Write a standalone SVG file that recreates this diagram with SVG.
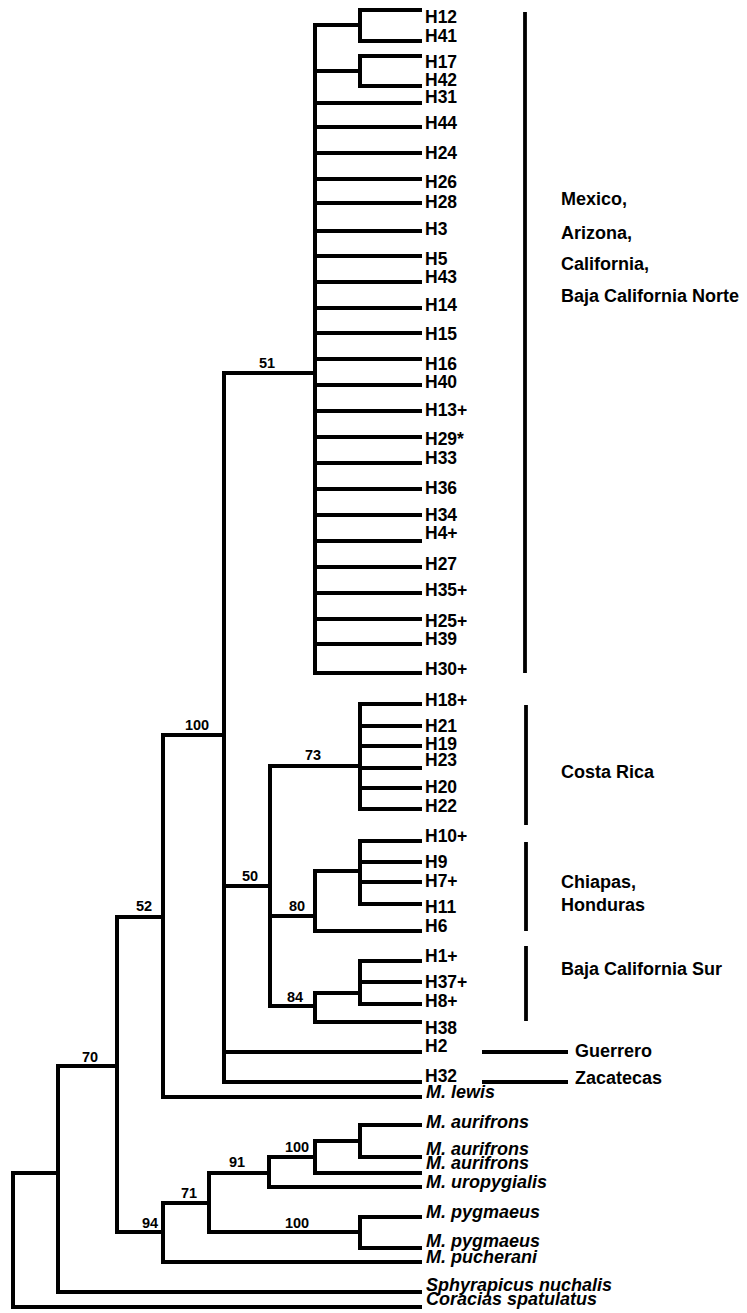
<svg xmlns="http://www.w3.org/2000/svg" width="747" height="1313" viewBox="0 0 747 1313">
<style>
.br{fill:none;stroke:#000;stroke-width:4;stroke-linecap:square;stroke-linejoin:miter}
.bar{fill:none;stroke:#000;stroke-width:3.8}
.t{font-family:"Liberation Sans",Arial,sans-serif;font-weight:bold;font-size:17.5px;fill:#000}
.ti{font-family:"Liberation Sans",Arial,sans-serif;font-weight:bold;font-style:italic;font-size:18px;fill:#000}
.bs{font-family:"Liberation Sans",Arial,sans-serif;font-weight:bold;font-size:14.5px;fill:#000;text-anchor:middle}
.rg{font-family:"Liberation Sans",Arial,sans-serif;font-weight:bold;font-size:18px;fill:#000}
</style>
<rect width="747" height="1313" fill="#fff"/>
<g id="connectors">
<path class="br" d="M13,1173V1307H420M13,1173H58"/>
<path class="br" d="M58,1066V1292H420M58,1066H117"/>
<path class="br" d="M117,917V1232H163M117,917H163"/>
<path class="br" d="M163,735V1097H420M163,735H224"/>
<path class="br" d="M224,373V1082H420M224,373H315M224,886H270M224,1052H420"/>
<path class="br" d="M315,25V673H420M315,25H360M315,71H360M315,103H420M315,127H420M315,153H420M315,179H420M315,203H420M315,231H420M315,256H420M315,282H420M315,308H420M315,333H420M315,359H420M315,385H420M315,411H420M315,437H420M315,463H420M315,489H420M315,515H420M315,541H420M315,567H420M315,593H420M315,619H420M315,644H420"/>
<path class="br" d="M360,10V41H420M360,10H420"/>
<path class="br" d="M360,56V86H420M360,56H420"/>
<path class="br" d="M270,766V1006H315M270,766H360M270,916H315"/>
<path class="br" d="M360,704V809H420M360,704H420M360,726H420M360,746H420M360,768H420M360,788H420"/>
<path class="br" d="M315,871V931H420M315,871H360"/>
<path class="br" d="M360,841V904H420M360,841H420M360,862H420M360,882H420"/>
<path class="br" d="M315,993V1022H420M315,993H360"/>
<path class="br" d="M360,961V1004H420M360,961H420M360,982H420"/>
<path class="br" d="M163,1203V1262H420M163,1203H209"/>
<path class="br" d="M209,1173V1232H360M209,1173H269"/>
<path class="br" d="M269,1157V1187H420M269,1157H315"/>
<path class="br" d="M315,1141V1173H420M315,1141H360"/>
<path class="br" d="M360,1125V1157H420M360,1125H420"/>
<path class="br" d="M360,1217V1248H420M360,1217H420"/>
</g>
<g id="support">
<text class="bs" x="267" y="368">51</text>
<text class="bs" x="197" y="730">100</text>
<text class="bs" x="144" y="911">52</text>
<text class="bs" x="90" y="1062">70</text>
<text class="bs" x="313" y="760">73</text>
<text class="bs" x="250" y="881">50</text>
<text class="bs" x="297" y="911">80</text>
<text class="bs" x="295" y="1002">84</text>
<text class="bs" x="150" y="1228">94</text>
<text class="bs" x="189" y="1198">71</text>
<text class="bs" x="237" y="1167">91</text>
<text class="bs" x="297" y="1152">100</text>
<text class="bs" x="297" y="1228">100</text>
</g>
<g id="tips">
<g id="H12"><text class="t" x="425" y="23">H12</text></g>
<g id="H41"><text class="t" x="425" y="42">H41</text></g>
<g id="H17"><text class="t" x="425" y="68">H17</text></g>
<g id="H42"><text class="t" x="425" y="86">H42</text></g>
<g id="H31"><text class="t" x="425" y="103">H31</text></g>
<g id="H44"><text class="t" x="425" y="129">H44</text></g>
<g id="H24"><text class="t" x="425" y="159">H24</text></g>
<g id="H26"><text class="t" x="425" y="188">H26</text></g>
<g id="H28"><text class="t" x="425" y="208">H28</text></g>
<g id="H3"><text class="t" x="425" y="235">H3</text></g>
<g id="H5"><text class="t" x="425" y="265">H5</text></g>
<g id="H43"><text class="t" x="425" y="283">H43</text></g>
<g id="H14"><text class="t" x="425" y="311">H14</text></g>
<g id="H15"><text class="t" x="425" y="340">H15</text></g>
<g id="H16"><text class="t" x="425" y="370">H16</text></g>
<g id="H40"><text class="t" x="425" y="388">H40</text></g>
<g id="H13"><text class="t" x="425" y="416">H13+</text></g>
<g id="H29"><text class="t" x="425" y="445">H29*</text></g>
<g id="H33"><text class="t" x="425" y="464">H33</text></g>
<g id="H36"><text class="t" x="425" y="494">H36</text></g>
<g id="H34"><text class="t" x="425" y="521">H34</text></g>
<g id="H4"><text class="t" x="425" y="539">H4+</text></g>
<g id="H27"><text class="t" x="425" y="570">H27</text></g>
<g id="H35"><text class="t" x="425" y="596">H35+</text></g>
<g id="H25"><text class="t" x="425" y="627">H25+</text></g>
<g id="H39"><text class="t" x="425" y="645">H39</text></g>
<g id="H30"><text class="t" x="425" y="675">H30+</text></g>
<g id="H18"><text class="t" x="425" y="706">H18+</text></g>
<g id="H21"><text class="t" x="425" y="732">H21</text></g>
<g id="H19"><text class="t" x="425" y="750">H19</text></g>
<g id="H23"><text class="t" x="425" y="766">H23</text></g>
<g id="H20"><text class="t" x="425" y="793">H20</text></g>
<g id="H22"><text class="t" x="425" y="812">H22</text></g>
<g id="H10"><text class="t" x="425" y="842">H10+</text></g>
<g id="H9"><text class="t" x="425" y="868">H9</text></g>
<g id="H7"><text class="t" x="425" y="887">H7+</text></g>
<g id="H11"><text class="t" x="425" y="913">H11</text></g>
<g id="H6"><text class="t" x="425" y="932">H6</text></g>
<g id="H1"><text class="t" x="425" y="962">H1+</text></g>
<g id="H37"><text class="t" x="425" y="988">H37+</text></g>
<g id="H8"><text class="t" x="425" y="1007">H8+</text></g>
<g id="H38"><text class="t" x="425" y="1034">H38</text></g>
<g id="H2"><text class="t" x="425" y="1052">H2</text></g>
<g id="H32"><text class="t" x="425" y="1082">H32</text></g>
<g id="Mlewis"><text class="ti" x="426" y="1098">M. lewis</text></g>
<g id="Maur1"><text class="ti" x="426" y="1128">M. aurifrons</text></g>
<g id="Maur2"><text class="ti" x="426" y="1155">M. aurifrons</text></g>
<g id="Maur3"><text class="ti" x="426" y="1169">M. aurifrons</text></g>
<g id="Muro"><text class="ti" x="426" y="1188">M. uropygialis</text></g>
<g id="Mpyg1"><text class="ti" x="426" y="1218">M. pygmaeus</text></g>
<g id="Mpyg2"><text class="ti" x="426" y="1247">M. pygmaeus</text></g>
<g id="Mpuch"><text class="ti" x="426" y="1263">M. pucherani</text></g>
<g id="Sphy"><text class="ti" x="426" y="1291">Sphyrapicus nuchalis</text></g>
<g id="Cora"><text class="ti" x="426" y="1305">Coracias spatulatus</text></g>
</g>
<g id="regions">
<g id="reg-mexico">
<line class="bar" x1="525" y1="12" x2="525" y2="673"/>
<text class="rg" x="561" y="205">Mexico,</text>
<text class="rg" x="561" y="239">Arizona,</text>
<text class="rg" x="561" y="270">California,</text>
<text class="rg" x="561" y="302">Baja California Norte</text>
</g>
<g id="reg-costarica">
<line class="bar" x1="526" y1="705" x2="526" y2="825"/>
<text class="rg" x="561" y="778">Costa Rica</text>
</g>
<g id="reg-chiapas">
<line class="bar" x1="526" y1="842" x2="526" y2="931"/>
<text class="rg" x="561" y="888">Chiapas,</text>
<text class="rg" x="561" y="911">Honduras</text>
</g>
<g id="reg-bajasur">
<line class="bar" x1="526" y1="946" x2="526" y2="1021"/>
<text class="rg" x="561" y="975">Baja California Sur</text>
</g>
<g id="reg-guerrero">
<line class="bar" x1="482" y1="1052" x2="568" y2="1052"/>
<text class="rg" x="575" y="1057">Guerrero</text>
</g>
<g id="reg-zacatecas">
<line class="bar" x1="482" y1="1082" x2="568" y2="1082"/>
<text class="rg" x="575" y="1084">Zacatecas</text>
</g>
</g>
</svg>
